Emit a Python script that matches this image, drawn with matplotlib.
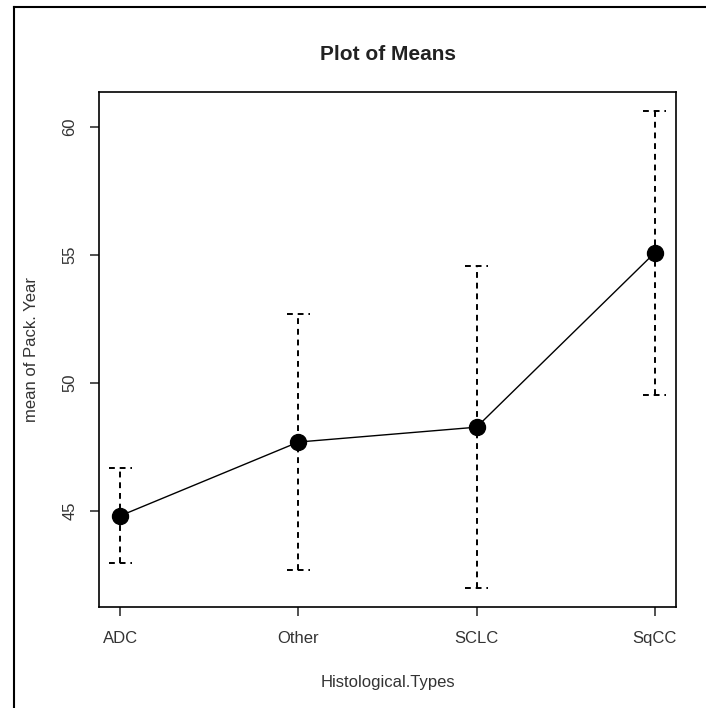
import matplotlib
matplotlib.use("Agg")
import matplotlib.pyplot as plt
from matplotlib.lines import Line2D
import numpy as np

# 数据：各组织学类型的 Pack.Year 均值与置信区间半宽
categories = ["ADC", "Other", "SCLC", "SqCC"]
means = [44.80, 47.68, 48.26, 55.07]
ci_half = [1.85, 5.00, 6.28, 5.54]
y_ticks = [45, 50, 55, 60]

plt.rcParams['font.family'] = ['Liberation Sans', 'DejaVu Sans']

fig = plt.figure(figsize=(7.06, 7.08), dpi=100)
ax = fig.add_axes([99 / 706, 1 - 607 / 708, (676 - 99) / 706, (607 - 92) / 708])

x = np.arange(1, len(categories) + 1)
m = np.array(means)
c = np.array(ci_half)
dash = (0, (3, 2.5))

# 误差线（虚线）及端帽
ax.vlines(x, m - c, m + c, colors='black', lw=1.4, linestyles=dash)
ax.hlines(m - c, x - 0.065, x + 0.065, colors='black', lw=1.4, linestyles=dash)
ax.hlines(m + c, x - 0.065, x + 0.065, colors='black', lw=1.4, linestyles=dash)

# 均值连线与点
ax.plot(x, m, color='black', lw=1.0, marker='o', markersize=11.5)

# R 风格 4% 边距
lo, hi = (m - c).min(), (m + c).max()
pad = (hi - lo) * 0.04
ax.set_ylim(lo - pad, hi + pad)
ax.set_xlim(1 - 0.12, len(categories) + 0.12)

ax.set_xticks(x)
ax.set_xticklabels(categories)
ax.set_yticks(y_ticks)
ax.set_yticklabels([str(t) for t in y_ticks], rotation=90, va='center')
ax.tick_params(length=6.5, width=1.1, labelsize=12, color='#222222',
               labelcolor='#333333')
ax.tick_params(axis='x', pad=11)
ax.tick_params(axis='y', pad=9)

for s in ax.spines.values():
    s.set_linewidth(1.2)

ax.set_title("Plot of Means", fontsize=15, fontweight='bold', pad=23, color='#222222')
ax.set_xlabel("Histological.Types", fontsize=12, labelpad=21, color='#333333')
ax.set_ylabel("mean of Pack. Year", fontsize=12, labelpad=17, color='#333333')

# 外框（仅左边和上边可见）
fig.add_artist(Line2D([14 / 706, 14 / 706], [0, 1 - 7 / 708], transform=fig.transFigure,
                      color='black', lw=1.5))
fig.add_artist(Line2D([14 / 706, 1], [1 - 7 / 708, 1 - 7 / 708], transform=fig.transFigure,
                      color='black', lw=1.5))

fig.savefig("out.png", dpi=100)
